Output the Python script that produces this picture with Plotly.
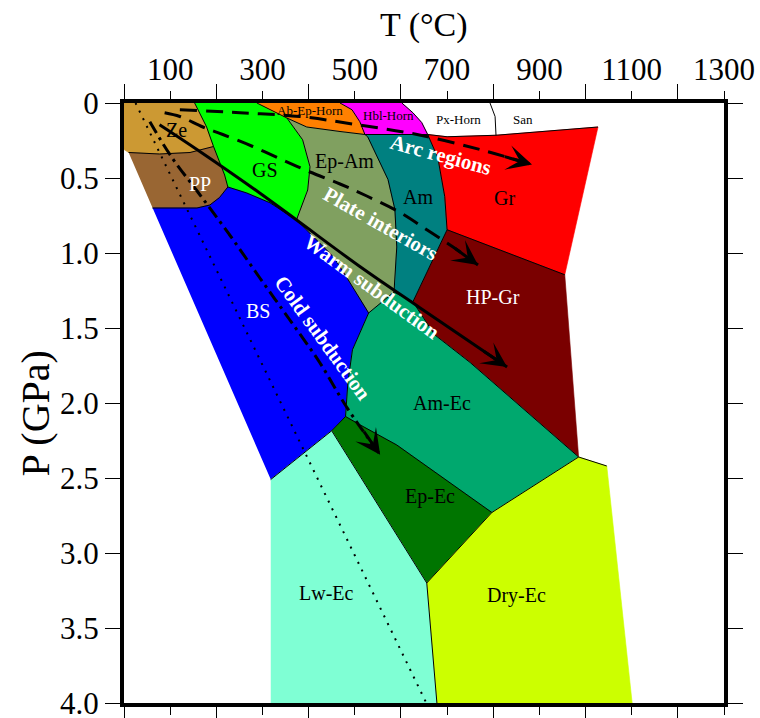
import math
import plotly.graph_objects as go

FONT = "Liberation Serif, Times New Roman, serif"

# ---------------- facies fields: T (°C), P (GPa) ----------------
ze_T = [0, 153, 179, 194, 143, 77, 10, 0]
ze_P = [0, 0, 0.16, 0.29, 0.33, 0.34, 0.33, 0.31]
pp_T = [10, 77, 143, 194, 218, 225, 207, 186, 158, 62]
pp_P = [0.33, 0.34, 0.33, 0.29, 0.48, 0.56, 0.63, 0.68, 0.70, 0.70]
gs_T = [153, 288, 316, 353, 387, 403, 398, 376, 374, 316, 266, 225, 218, 194, 179]
gs_P = [0, 0, 0.045, 0.10, 0.245, 0.425, 0.58, 0.76, 0.78, 0.665, 0.60, 0.56, 0.48, 0.29, 0.16]
aeh_T = [288, 468, 494, 511, 522, 468, 396, 353, 316]
aeh_P = [0, 0, 0.045, 0.125, 0.21, 0.19, 0.16, 0.10, 0.045]
hh_T = [468, 602, 626, 645, 658, 522, 511, 494]
hh_P = [0, 0, 0.065, 0.13, 0.21, 0.21, 0.125, 0.045]
epam_T = [353, 396, 468, 522, 528, 572, 587, 591, 587, 585, 530, 483, 455, 374, 376, 398, 403, 387]
epam_P = [0.10, 0.16, 0.19, 0.21, 0.225, 0.51, 0.71, 0.96, 1.225, 1.26, 1.40, 1.165, 1.03, 0.78, 0.76, 0.58, 0.425, 0.245]
am_T = [522, 658, 680, 695, 700, 626, 585, 587, 591, 587, 572, 528]
am_P = [0.21, 0.21, 0.365, 0.625, 0.845, 1.325, 1.26, 1.225, 0.96, 0.71, 0.51, 0.225]
gr_T = [658, 700, 806, 1027, 955, 700, 695, 680]
gr_P = [0.21, 0.225, 0.215, 0.16, 1.145, 0.845, 0.625, 0.365]
hpgr_T = [700, 955, 985, 750, 673, 626]
hpgr_P = [0.845, 1.145, 2.36, 1.73, 1.545, 1.325]
bs_T = [62, 158, 186, 207, 225, 266, 316, 374, 455, 483, 530, 495, 485, 480, 450, 318]
bs_P = [0.70, 0.70, 0.68, 0.63, 0.56, 0.60, 0.665, 0.78, 1.03, 1.165, 1.40, 1.645, 1.865, 2.09, 2.185, 2.51]
amec_T = [530, 585, 626, 673, 750, 985, 797, 591, 511, 480, 485, 495]
amec_P = [1.40, 1.26, 1.325, 1.545, 1.73, 2.36, 2.73, 2.28, 2.145, 2.09, 1.865, 1.645]
epec_T = [480, 511, 591, 797, 656, 450]
epec_P = [2.09, 2.145, 2.28, 2.73, 3.20, 2.185]
lwec_T = [318, 450, 656, 678, 318]
lwec_P = [2.51, 2.185, 3.20, 4.0, 4.0]
dryec_T = [656, 797, 985, 1046, 1101, 678]
dryec_P = [3.20, 2.73, 2.36, 2.42, 4.0, 4.0]

facies = [
    (ze_T, ze_P, "#CC9933"), (pp_T, pp_P, "#996633"), (gs_T, gs_P, "#00FF00"),
    (aeh_T, aeh_P, "#FF8000"), (hh_T, hh_P, "#FF00FF"), (epam_T, epam_P, "#80A060"),
    (am_T, am_P, "#008080"), (gr_T, gr_P, "#FF0000"), (hpgr_T, hpgr_P, "#7A0000"),
    (bs_T, bs_P, "#0000FF"), (amec_T, amec_P, "#00A86E"), (epec_T, epec_P, "#007500"),
    (lwec_T, lwec_P, "#7FFFD4"), (dryec_T, dryec_P, "#CCFF00"),
]

# ---------------- internal field boundaries ----------------
boundaries = [
    ([153, 179, 194], [0, 0.16, 0.29]),
    ([10, 77, 143, 194], [0.33, 0.34, 0.33, 0.29]),
    ([194, 218, 225], [0.29, 0.48, 0.56]),
    ([62, 158, 186, 207, 225], [0.70, 0.70, 0.68, 0.63, 0.56]),
    ([225, 266, 316, 374], [0.56, 0.60, 0.665, 0.78]),
    ([288, 316, 353], [0, 0.045, 0.10]),
    ([353, 387, 403, 398, 376, 374], [0.10, 0.245, 0.425, 0.58, 0.76, 0.78]),
    ([353, 396, 468, 522], [0.10, 0.16, 0.19, 0.21]),
    ([468, 494, 511, 522], [0, 0.045, 0.125, 0.21]),
    ([602, 626, 645, 658], [0, 0.065, 0.13, 0.21]),
    ([522, 658], [0.21, 0.21]),
    ([658, 700, 806, 1027], [0.21, 0.225, 0.215, 0.16]),
    ([793, 804, 806], [0, 0.09, 0.215]),
    ([522, 528, 572, 587, 591, 587, 585], [0.21, 0.225, 0.51, 0.71, 0.96, 1.225, 1.26]),
    ([658, 680, 695, 700], [0.21, 0.365, 0.625, 0.845]),
    ([700, 955], [0.845, 1.145]),
    ([700, 626], [0.845, 1.325]),
    ([374, 455, 483, 530], [0.78, 1.03, 1.165, 1.40]),
    ([530, 585, 626], [1.40, 1.26, 1.325]),
    ([626, 673, 750, 985], [1.325, 1.545, 1.73, 2.36]),
    ([530, 495, 485, 480], [1.40, 1.645, 1.865, 2.09]),
    ([480, 450, 318], [2.09, 2.185, 2.51]),
    ([480, 511, 591, 797], [2.09, 2.145, 2.28, 2.73]),
    ([797, 985, 1046], [2.73, 2.36, 2.42]),
    ([450, 656, 678], [2.185, 3.20, 4.0]),
    ([797, 656], [2.73, 3.20]),
]

# ---------------- geotherm paths ----------------
arc_T = [121, 251, 381, 506, 635, 771, 884]
arc_P = [0.045, 0.065, 0.09, 0.145, 0.21, 0.31, 0.41]
plate_T = [88, 121, 171, 214, 279, 344, 403, 468, 526, 598, 656, 713, 767]
plate_P = [0.065, 0.09, 0.16, 0.21, 0.29, 0.38, 0.46, 0.54, 0.62, 0.73, 0.845, 0.96, 1.08]
warm_T = [77, 158, 294, 374, 511, 641, 830]
warm_P = [0.145, 0.31, 0.60, 0.78, 1.09, 1.365, 1.76]
cold_T = [56, 103, 164, 229, 294, 359, 424, 483, 555]
cold_P = [0.125, 0.36, 0.61, 0.88, 1.165, 1.445, 1.73, 2.03, 2.345]
dot_T = [25, 655]
dot_P = [0, 4.0]

# ---------------- labels ----------------
field_names = ["Ze", "PP", "GS", "Ep-Am", "Am", "Gr", "HP-Gr", "BS", "Am-Ec", "Ep-Ec", "Lw-Ec", "Dry-Ec"]
field_T = [114, 164, 305, 478, 637, 825, 799, 290, 689, 663, 439, 851]
field_P = [0.18, 0.54, 0.445, 0.39, 0.625, 0.63, 1.29, 1.385, 2.00, 2.625, 3.265, 3.285]
field_col = ["black", "white", "black", "black", "black", "black", "white", "white", "black", "black", "black", "black"]
horn_names = ["Ab-Ep-Horn", "Hbl-Horn", "Px-Horn", "San"]
horn_T = [403, 572, 725, 864]
horn_P = [0.05, 0.085, 0.11, 0.11]
path_names = ["Arc regions", "Plate interiors", "Warm subduction", "Cold subduction"]
path_T = [687, 557, 537, 431]
path_P = [0.345, 0.805, 1.225, 1.565]
path_angle = [15, 29.5, 36, 54]

x_ticks = [100, 300, 500, 700, 900, 1100, 1300]
x_minor = [0, 200, 400, 600, 800, 1000, 1200]
y_ticks = [0, 0.5, 1.0, 1.5, 2.0, 2.5, 3.0, 3.5, 4.0]
y_text = ["0", "0.5", "1.0", "1.5", "2.0", "2.5", "3.0", "3.5", "4.0"]

fig = go.Figure()
for T, P, c in facies:
    fig.add_trace(go.Scatter(x=T, y=P, mode="lines", fill="toself", fillcolor=c,
                             line=dict(color=c, width=0.6), hoverinfo="skip", showlegend=False))

bx, by = [], []
for T, P in boundaries:
    bx += T + [None]
    by += P + [None]
fig.add_trace(go.Scatter(x=bx, y=by, mode="lines", line=dict(color="black", width=1),
                         hoverinfo="skip", showlegend=False))

fig.add_trace(go.Scatter(x=dot_T, y=dot_P, mode="lines",
                         line=dict(color="black", width=2, dash="2px,6.5px"), showlegend=False))
fig.add_trace(go.Scatter(x=arc_T, y=arc_P, mode="lines", line_shape="spline",
                         line=dict(color="black", width=3, dash="17px,9px"), showlegend=False))
fig.add_trace(go.Scatter(x=plate_T, y=plate_P, mode="lines", line_shape="spline",
                         line=dict(color="black", width=3, dash="17px,9px"), showlegend=False))
fig.add_trace(go.Scatter(x=warm_T, y=warm_P, mode="lines", line_shape="spline",
                         line=dict(color="black", width=3), showlegend=False))
fig.add_trace(go.Scatter(x=cold_T, y=cold_P, mode="lines", line_shape="spline",
                         line=dict(color="black", width=3, dash="13px,5px,3px,5px"), showlegend=False))

# scales for arrow direction (pixels per unit)
SX, SY = 600 / 1300, 600 / 4.0
for T, P in [(arc_T, arc_P), (plate_T, plate_P), (warm_T, warm_P), (cold_T, cold_P)]:
    tx, ty, qx, qy = T[-1], P[-1], T[-2], P[-2]
    L = math.hypot((tx - qx) * SX, (ty - qy) * SY)
    f = 30 / L
    fig.add_annotation(x=tx, y=ty, ax=tx + (qx - tx) * f, ay=ty + (qy - ty) * f,
                       xref="x", yref="y", axref="x", ayref="y", text="",
                       showarrow=True, arrowhead=3, arrowsize=1.4, arrowwidth=3, arrowcolor="black")

for n, t, p, c in zip(field_names, field_T, field_P, field_col):
    fig.add_annotation(x=t, y=p, text=n, showarrow=False, font=dict(family=FONT, size=20, color=c))
for n, t, p in zip(horn_names, horn_T, horn_P):
    fig.add_annotation(x=t, y=p, text=n, showarrow=False, font=dict(family=FONT, size=13, color="black"))
for n, t, p, a in zip(path_names, path_T, path_P, path_angle):
    fig.add_annotation(x=t, y=p, text="<b>" + n + "</b>", showarrow=False, textangle=a,
                       font=dict(family=FONT, size=21, color="white"))

fig.add_annotation(xref="paper", yref="paper", x=0.5, y=1.13, text="T (°C)", showarrow=False,
                   xanchor="center", yanchor="middle", font=dict(family=FONT, size=34, color="black"))
fig.add_annotation(xref="paper", yref="paper", x=-0.148, y=0.483, text="P (GPa)", showarrow=False,
                   textangle=-90, xanchor="center", yanchor="middle",
                   font=dict(family=FONT, size=40, color="black"))

fig.update_layout(width=760, height=718, margin=dict(l=124, r=36, t=103, b=15),
                  plot_bgcolor="white", paper_bgcolor="white", showlegend=False,
                  font=dict(family=FONT, color="black"))
fig.update_xaxes(range=[0, 1300], side="top", showgrid=False, zeroline=False, automargin=False,
                 showline=True, linewidth=4, linecolor="black", mirror="ticks",
                 ticks="outside", ticklen=8, tickwidth=1.2, tickcolor="black",
                 tickvals=x_ticks, ticktext=[str(v) for v in x_ticks], ticklabeloverflow="allow",
                 tickfont=dict(family=FONT, size=31, color="black"), ticklabelstandoff=-1,
                 minor=dict(tickvals=x_minor, ticks="outside", ticklen=15, tickwidth=1.2, tickcolor="black"))
fig.update_yaxes(range=[4, 0], showgrid=False, zeroline=False, automargin=False,
                 showline=True, linewidth=4, linecolor="black", mirror="ticks",
                 ticks="outside", ticklen=15, tickwidth=1.2, tickcolor="black",
                 tickvals=y_ticks, ticktext=y_text, ticklabeloverflow="allow",
                 tickfont=dict(family=FONT, size=31, color="black"))

fig.write_html("out.html")
